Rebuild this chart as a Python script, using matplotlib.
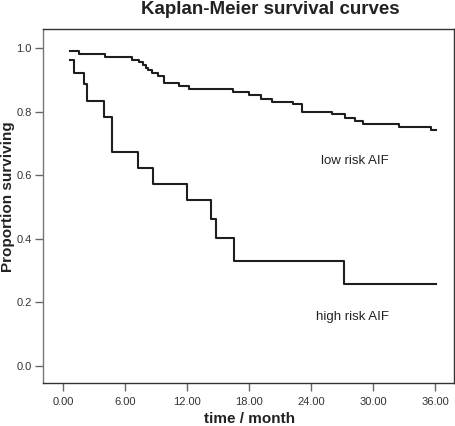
import matplotlib
matplotlib.use("Agg")
import matplotlib.pyplot as plt

plt.rcParams['font.family'] = ['Liberation Sans', 'DejaVu Sans']

# Low risk AIF: step times (months) and survival after each step
low_t = [0.6, 1.55, 4.0, 6.6, 7.35, 7.7, 8.0, 8.2, 8.55, 9.2, 9.7, 11.2, 12.2,
         16.45, 18.0, 19.1, 20.2, 22.2, 23.1, 26.0, 27.3, 28.2, 29.0, 32.5, 35.6, 36.1]
low_s = [0.991, 0.982, 0.972, 0.963, 0.955, 0.946, 0.938, 0.930, 0.920, 0.912, 0.891,
         0.881, 0.870, 0.861, 0.851, 0.840, 0.831, 0.823, 0.800, 0.793, 0.781, 0.772,
         0.762, 0.751, 0.741, 0.741]

# High risk AIF
high_t = [0.65, 1.07, 2.03, 2.26, 3.97, 4.74, 7.26, 8.65, 12.0, 14.27, 14.8, 16.55, 27.2, 36.1]
high_s = [0.963, 0.923, 0.886, 0.834, 0.782, 0.674, 0.621, 0.572, 0.522, 0.461, 0.401,
          0.330, 0.257, 0.257]

xticks = [0, 6, 12, 18, 24, 30, 36]
xtick_labels = ["0.00", "6.00", "12.00", "18.00", "24.00", "30.00", "36.00"]
yticks = [0.0, 0.2, 0.4, 0.6, 0.8, 1.0]
ytick_labels = ["0.0", "0.2", "0.4", "0.6", "0.8", "1.0"]

W, H = 456, 426
fig = plt.figure(figsize=(W / 100, H / 100), dpi=100)
ax = fig.add_axes([43 / W, 1 - 383 / H, (454.5 - 43) / W, (383 - 29.3) / H])

line_color = "#1e1e1e"
ax.step(low_t, low_s, where="post", color=line_color, lw=1.5)
ax.step(high_t, high_s, where="post", color=line_color, lw=1.5)

ax.set_xlim(-1.97, 37.85)
ax.set_ylim(-0.054, 1.059)

ax.set_xticks(xticks)
ax.set_xticklabels(xtick_labels)
ax.set_yticks(yticks)
ax.set_yticklabels(ytick_labels)
ax.tick_params(axis="both", direction="out", length=6, width=1, colors="#666666",
               labelsize=8, labelcolor="#333333")
ax.tick_params(axis="x", pad=4)
ax.tick_params(axis="y", pad=2)

ax.spines["left"].set_color("#777777")
for side in ["bottom", "right", "top"]:
    ax.spines[side].set_color("#333333")
for sp in ax.spines.values():
    sp.set_linewidth(1.0)

ax.text(24.9, 0.645, "low risk AIF", fontsize=9.5, color="#222222", va="center", ha="left")
ax.text(24.4, 0.155, "high risk AIF", fontsize=9.5, color="#222222", va="center", ha="left")

fig.text(250 / W, 1 - 419 / H, "time / month", fontsize=11, fontweight="bold",
         ha="center", va="center", color="#222222")
fig.text(8 / W, 1 - 197 / H, "Proportion surviving", fontsize=11, fontweight="bold",
         ha="center", va="center", rotation=90, color="#222222")

fig.text(270 / W, 1 - 9 / H, "Kaplan-Meier survival curves", fontsize=13.5,
         fontweight="bold", ha="center", va="center", color="#222222")

fig.savefig("out.png", dpi=100)
